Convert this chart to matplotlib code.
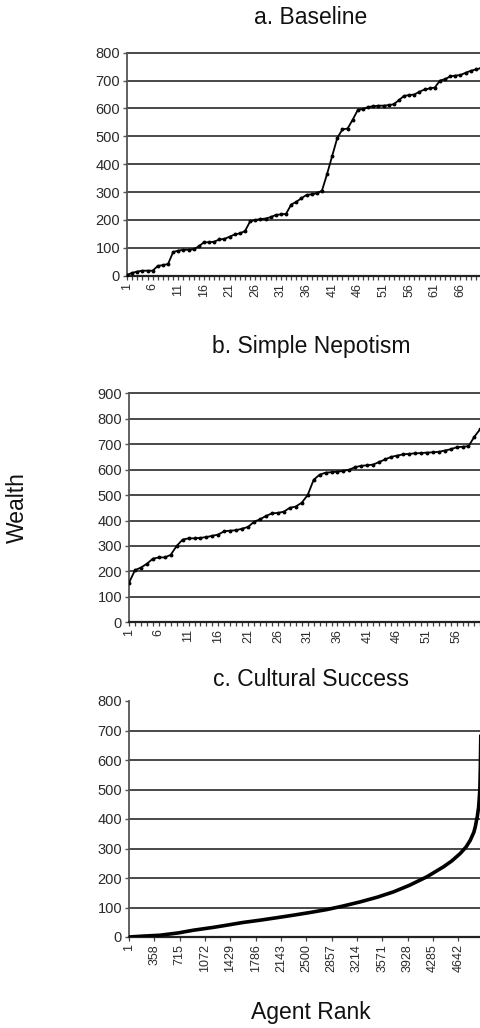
import matplotlib
matplotlib.use("Agg")
import matplotlib.pyplot as plt

plt.rcParams['font.family'] = ['Liberation Sans', 'DejaVu Sans']

# ---- data ----
baseline_wealth = [3, 10, 15, 18, 18, 18, 35, 38, 42, 85,
                   90, 93, 93, 95, 105, 120, 120, 122, 130, 132,
                   140, 148, 152, 160, 195, 200, 203, 205, 210, 218,
                   220, 222, 255, 265, 278, 290, 292, 296, 305, 365,
                   430, 495, 525, 528, 560, 595, 598, 605, 608, 610,
                   610, 612, 615, 630, 645, 648, 650, 660, 668, 672,
                   675, 700, 705, 715, 718, 720, 728, 735, 740, 745]
baseline_ticklabels = ['1', '6', '11', '16', '21', '26', '31', '36', '41', '46', '51', '56', '61', '66']

nepotism_wealth = [155, 205, 215, 230, 250, 255, 255, 265, 300, 325,
                   330, 330, 332, 335, 340, 345, 358, 360, 362, 368,
                   375, 395, 405, 418, 428, 430, 435, 450, 455, 470,
                   500, 560, 580, 588, 590, 592, 595, 600, 610, 615,
                   617, 620, 630, 640, 650, 655, 660, 662, 664, 665,
                   667, 668, 670, 675, 680, 688, 690, 692, 730, 760]
nepotism_ticklabels = ['1', '6', '11', '16', '21', '26', '31', '36', '41', '46', '51', '56']

cultural_rank = [1, 200, 438, 700, 908, 1200, 1378, 1600, 1848, 2100, 2318, 2550,
                 2788, 3000, 3258, 3500, 3728, 3950, 4198, 4433, 4550, 4668,
                 4750, 4810, 4860, 4880, 4910, 4928, 4945, 4952, 4958]
cultural_wealth = [0, 3, 6, 14, 23, 33, 40, 49, 57, 66, 74, 83,
                   93, 104, 119, 135, 153, 175, 204, 238, 258, 283,
                   305, 328, 355, 373, 410, 441, 500, 577, 680]
cultural_ticklabels = ['1', '358', '715', '1072', '1429', '1786', '2143', '2500',
                       '2857', '3214', '3571', '3928', '4285', '4642']

titles = ['a. Baseline', 'b. Simple Nepotism', 'c. Cultural Success']

W, H = 481, 1028
fig = plt.figure(figsize=(W / 100, H / 100), dpi=100)

grid_c = '#3a3a3a'
txt_c = '#2a2a2a'


def fx(px):
    return px / W


def fy(py):
    return 1 - py / H


def style(ax, ymax, ystep, top_grid=True):
    ax.set_ylim(0, ymax)
    ax.set_yticks(range(0, ymax + 1, ystep))
    for v in range(ystep, ymax + 1, ystep):
        if v == ymax and not top_grid:
            continue
        ax.axhline(v, color=grid_c, lw=1.3, zorder=1, clip_on=False)
    for s in ['top', 'right']:
        ax.spines[s].set_visible(False)
    ax.spines['left'].set_color('#555555')
    ax.spines['left'].set_linewidth(1.3)
    ax.spines['bottom'].set_color('#222222')
    ax.spines['bottom'].set_linewidth(1.6)
    ax.tick_params(axis='y', length=3, width=1, color='#555555', pad=2,
                   labelsize=10.5, labelcolor=txt_c)
    ax.tick_params(axis='x', which='both', length=3, width=0.9, color='#444444',
                   pad=2, labelsize=9, labelcolor=txt_c, labelrotation=90)


# Panel a
ax1 = fig.add_axes([fx(127), fy(275.7), 1 - fx(127), (275.7 - 52.7) / H])
xa = list(range(1, len(baseline_wealth) + 1))
ax1.plot(xa, baseline_wealth, color='black', lw=1.3, marker='o', ms=1.8, zorder=3)
ax1.set_xlim(1, 69.5)
style(ax1, 800, 100)
ax1.set_xticks([int(t) for t in baseline_ticklabels])
ax1.set_xticklabels(baseline_ticklabels)
ax1.set_xticks(xa, minor=True)

# Panel b
ax2 = fig.add_axes([fx(129), fy(622.3), 1 - fx(129), (622.3 - 393.3) / H])
xb = list(range(1, len(nepotism_wealth) + 1))
ax2.plot(xb, nepotism_wealth, color='black', lw=1.3, marker='o', ms=1.8, zorder=3)
ax2.set_xlim(1, 60.1)
style(ax2, 900, 100)
ax2.set_xticks([int(t) for t in nepotism_ticklabels])
ax2.set_xticklabels(nepotism_ticklabels)
ax2.set_xticks(xb, minor=True)

# Panel c
ax3 = fig.add_axes([fx(129), fy(937), 1 - fx(129), (937 - 701) / H])
ax3.plot(cultural_rank, cultural_wealth, color='black', lw=2.6, zorder=3)
ax3.set_xlim(1, 4961)
style(ax3, 800, 100, top_grid=False)
ax3.set_xticks([int(t) for t in cultural_ticklabels])
ax3.set_xticklabels(cultural_ticklabels)

for t, y in zip(titles, [18, 347, 680]):
    fig.text(fx(311), fy(y), t, ha='center', va='center', fontsize=16.5, color='#111111')

fig.text(fx(17), fy(508), 'Wealth', rotation=90, ha='center', va='center',
         fontsize=16.5, color='#111111')
fig.text(fx(311), fy(1012), 'Agent Rank', ha='center', va='center',
         fontsize=16.5, color='#111111')

fig.savefig('out.png', dpi=100, facecolor='white')
